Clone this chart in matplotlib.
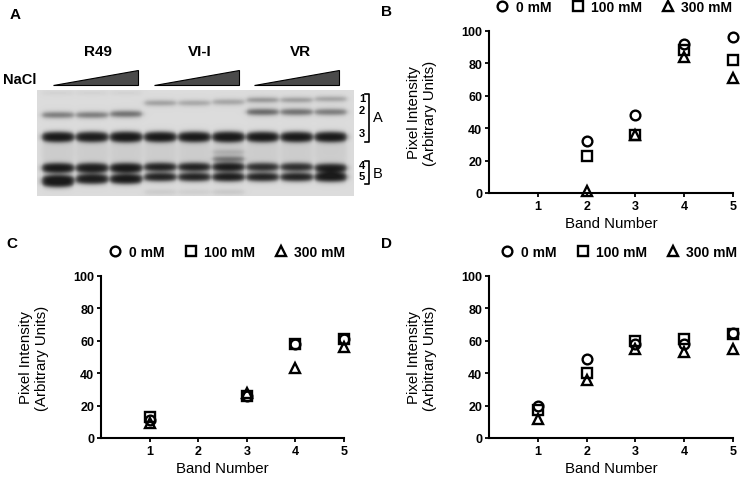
import numpy as np
import matplotlib
matplotlib.use('Agg')
import matplotlib.pyplot as plt

plt.rcParams['font.family'] = ['Liberation Sans', 'DejaVu Sans']

# ---------------- data ----------------
conc_labels = ['0 mM', '100 mM', '300 mM']
band_ticks = [1, 2, 3, 4, 5]
y_ticks = [0, 20, 40, 60, 80, 100]

# Panel B (band 1 absent)
b_bands = [2, 3, 4, 5]
b_0mM = [32, 48, 92, 96]
b_100mM = [23, 36, 88, 82]
b_300mM = [1, 36, 84, 71]

# Panel C (band 2 absent)
c_bands = [1, 3, 4, 5]
c_0mM = [11, 26, 58, 61]
c_100mM = [13, 26, 58, 61]
c_300mM = [9, 28, 43, 56]

# Panel D
d_bands = [1, 2, 3, 4, 5]
d_0mM = [20, 49, 58, 58, 65]
d_100mM = [17, 40, 60, 61, 64]
d_300mM = [12, 36, 55, 53, 55]

# Panel A gel: strains, lanes and bands (lane index, row in gel, half height, darkness)
strains = ['R49', 'VI-I', 'VR']
gel_band_labels = ['1', '2', '3', '4', '5']
gel_lanes = [0, 1, 2, 3, 4, 5, 6, 7, 8]
gel_band_lane = [0, 1, 2, 0, 1, 2, 0, 1, 2, 0, 1, 2, 0, 1, 2,
                 3, 4, 5, 3, 4, 5, 3, 4, 5, 3, 4, 5, 5, 5, 3, 4, 5,
                 6, 7, 8, 6, 7, 8, 6, 7, 8, 6, 7, 8, 6, 7, 8]
gel_band_row = [25, 25, 24, 47, 47, 47, 78, 78, 78, 91, 89, 89, 3, 3, 3,
                13, 13, 12, 47, 47, 47, 77, 77, 77, 87, 87, 87, 69, 62, 102, 102, 102,
                10, 10, 9, 22, 22, 22, 47, 47, 47, 77, 77, 78, 87, 87, 87]
gel_band_half = [2.4, 2.4, 2.6, 5.0, 5.0, 5.2, 4.8, 4.8, 4.8, 6.0, 4.8, 4.8, 1.5, 1.5, 1.5,
                 1.8, 1.8, 2.0, 5.0, 5.0, 5.2, 4.0, 4.0, 4.2, 4.0, 4.0, 4.2, 2.0, 1.5, 2.0, 2.0, 2.0,
                 1.6, 1.6, 1.6, 2.6, 2.6, 2.5, 5.0, 5.0, 5.0, 3.8, 3.8, 4.2, 4.0, 4.0, 4.6]
gel_band_dark = [0.55, 0.55, 0.6, 0.92, 0.9, 0.92, 0.92, 0.9, 0.92, 0.92, 0.9, 0.92, 0.06, 0.06, 0.06,
                 0.4, 0.35, 0.35, 0.92, 0.92, 0.92, 0.9, 0.9, 0.92, 0.9, 0.9, 0.92, 0.55, 0.22, 0.1, 0.08, 0.12,
                 0.5, 0.45, 0.4, 0.65, 0.6, 0.55, 0.92, 0.92, 0.92, 0.85, 0.85, 0.9, 0.9, 0.9, 0.92]

# ---------------- figure ----------------
W, H = 741, 481
fig = plt.figure(figsize=(W / 100, H / 100), dpi=100)


def fx(px):
    return px / W


def fy(py):
    return 1 - py / H


ov = fig.add_axes([0, 0, 1, 1])
ov.set_xlim(0, W)
ov.set_ylim(H, 0)
ov.axis('off')
ov.patch.set_visible(False)

# ---- gel image ----
gx0, gx1, gy0, gy1 = 37, 354, 91, 197
gw, gh = gx1 - gx0, gy1 - gy0
gax = fig.add_axes([fx(gx0), fy(gy1), fx(gw), gh / H])
xs = np.arange(gw) + 0.5
ys = np.arange(gh) + 0.5
dark = np.zeros((gh, gw))


def sig(z):
    return 1 / (1 + np.exp(-z))


lane_pitch, lane_off, lane_half = 34.1, 21.0, 16.0
for li, row, hh, dk in zip(gel_band_lane, gel_band_row, gel_band_half, gel_band_dark):
    c = lane_off + lane_pitch * li
    u = np.clip(np.abs(xs - c) / lane_half, 0, 1)
    taper = 0.55 + 0.45 * np.sqrt(1 - u ** 2)          # lens-shaped bands
    hx = sig((xs - (c - lane_half)) / 1.6) * sig(((c + lane_half) - xs) / 1.6)
    hhx = hh * taper
    vy = sig((ys[:, None] - (row - hhx[None, :])) / 1.3) * sig(((row + hhx[None, :]) - ys[:, None]) / 1.3)
    dark += dk * vy * hx[None, :]
# light smear below band 3 in each lane
for li in gel_lanes:
    c = lane_off + lane_pitch * li
    hx = sig((xs - (c - lane_half)) / 1.6) * sig(((c + lane_half) - xs) / 1.6)
    vy = sig((ys - 53) / 2) * sig((72 - ys) / 2)
    dark += 0.07 * np.outer(vy, hx)
img = 0.86 * (1 - np.clip(dark, 0, 0.88))
gax.imshow(img, cmap='gray', vmin=0, vmax=1, aspect='auto', interpolation='bilinear',
           extent=[0, gw, gh, 0])
gax.set_xlim(0, gw)
gax.set_ylim(gh, 0)
gax.axis('off')

# ---- panel A annotations ----
bold = dict(fontweight='bold', color='black')
ov.text(15, 15, 'A', fontsize=11, ha='center', va='center', **bold)
for name, cx in zip(strains, [98, 200, 300]):
    ov.text(cx, 52, name, fontsize=11, ha='center', va='center', **bold)
ov.text(3, 80, 'NaCl', fontsize=10.5, ha='left', va='center', **bold)
for x0 in [53, 154, 254]:
    ov.fill([x0, x0 + 85, x0 + 85], [86, 86, 71], facecolor='#4a4a4a', edgecolor='black', lw=0.8)
for lab, yy in zip(gel_band_labels, [99, 111, 134, 166, 177]):
    ov.text(362, yy, lab, fontsize=8, ha='center', va='center', **bold)
ov.plot([365, 369, 369, 365], [95, 95, 143, 143], color='black', lw=1.2)
ov.plot([365, 369, 369, 365], [162, 162, 185, 185], color='black', lw=1.2)
ov.text(378, 118, 'A', fontsize=10.5, ha='center', va='center')
ov.text(378, 174, 'B', fontsize=10.5, ha='center', va='center')

# ---- scatter panels ----
markers = ['o', 's', '^']


def scatter_panel(rect_px, xs_, series, label, lab_xy, leg_xy):
    x0, y0, x1, y1 = rect_px
    ax = fig.add_axes([fx(x0), fy(y1), fx(x1 - x0), (y1 - y0) / H])
    handles = []
    for vals, m, name in zip(series, markers, conc_labels):
        h, = ax.plot(xs_, vals, linestyle='none', marker=m, markersize=7 if m != '^' else 7.5,
                     markerfacecolor='none', markeredgecolor='black', markeredgewidth=1.7,
                     clip_on=False, label=name, zorder=3)
        handles.append(h)
    ax.set_xlim(0, 5)
    ax.set_ylim(0, 100)
    ax.set_xticks(band_ticks)
    ax.set_yticks(y_ticks)
    for s in ['top', 'right']:
        ax.spines[s].set_visible(False)
    for s in ['left', 'bottom']:
        ax.spines[s].set_linewidth(1.5)
    ax.tick_params(direction='out', length=3, width=1.3, pad=2, labelsize=9)
    for t in ax.get_xticklabels() + ax.get_yticklabels():
        t.set_fontweight('bold')
    ax.set_xlabel('Band Number', fontsize=10.8)
    ax.xaxis.set_label_coords(0.5, -0.14)
    ax.set_ylabel('Pixel Intensity\n(Arbitrary Units)', fontsize=10.8, linespacing=1.15)
    ax.yaxis.set_label_coords(-0.215, 0.5)
    ax.patch.set_visible(False)
    ax.legend(handles=handles, ncol=3, frameon=False, loc='center left',
              bbox_to_anchor=(fx(leg_xy[0] - 6.5), fy(leg_xy[1])),
              bbox_transform=fig.transFigure, borderaxespad=0, borderpad=0,
              handlelength=1.0, handletextpad=0.45, columnspacing=1.4,
              prop={'weight': 'bold', 'size': 10})
    ov.text(lab_xy[0], lab_xy[1], label, fontsize=11, ha='center', va='center', **bold)
    return ax


scatter_panel((489, 32, 733, 194), b_bands, [b_0mM, b_100mM, b_300mM], 'B', (387, 12), (502, 8))
scatter_panel((101, 277, 344, 439), c_bands, [c_0mM, c_100mM, c_300mM], 'C', (12, 244), (115, 253))
scatter_panel((489, 277, 733, 439), d_bands, [d_0mM, d_100mM, d_300mM], 'D', (386, 244), (507, 253))

fig.savefig('out.png', dpi=100)
